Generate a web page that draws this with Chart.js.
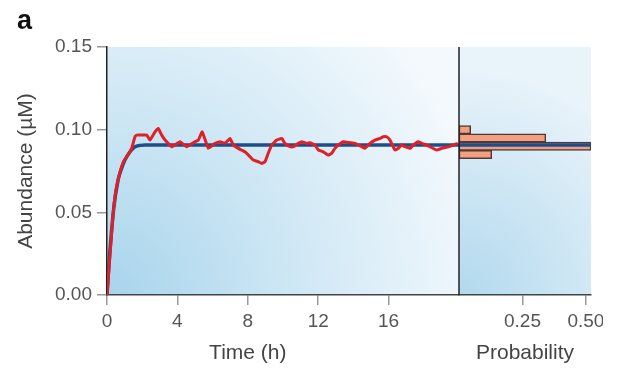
<!DOCTYPE html>
<html>
<head>
<meta charset="utf-8">
<script src="https://cdn.jsdelivr.net/npm/chart.js@4"></script>
<style>
  html, body { margin: 0; background: #fff; }
  #wrap { position: relative; width: 619px; height: 369px; }
  #wrap canvas { position: absolute; left: 0; top: 0; }
  #panel { position: absolute; left: 17px; top: 7px; font: bold 27px 'Liberation Sans', Arial, sans-serif; color: #111; line-height: 1; }
</style>
</head>
<body>
<div id="wrap">
  <canvas id="chart" width="603" height="369"></canvas>
  <div id="panel">a</div>
</div>
<script>
// stochastic simulation (red)
const timeH = [0, 0.17, 0.34, 0.51, 0.74, 0.93, 1.12, 1.40, 1.59, 1.69, 1.97, 2.26, 2.44, 2.73, 2.91, 3.11, 3.30,
  3.68, 3.86, 4.15, 4.53, 5.00, 5.19, 5.41, 5.76, 6.14, 6.42, 6.70, 6.99, 7.18, 7.46, 7.84, 8.13, 8.31, 8.60,
  8.79, 8.98, 9.16, 9.36, 9.64, 9.93, 10.11, 10.40, 10.59, 10.87, 11.06, 11.35, 11.53, 11.82, 12.01, 12.29,
  12.57, 12.77, 12.95, 13.14, 13.43, 13.81, 14.09, 14.47, 14.66, 14.94, 15.23, 15.51, 15.70, 15.89, 16.08,
  16.36, 16.55, 16.74, 16.93, 17.22, 17.40, 17.69, 17.88, 18.16, 18.35, 18.73, 19.02, 19.39, 19.68, 19.93];
const stochastic = [0, 0.0242, 0.0484, 0.0635, 0.0744, 0.0806, 0.0836, 0.0887, 0.0957, 0.0967, 0.0967, 0.0967, 0.0937, 0.0987, 0.1008, 0.0967, 0.0937,
  0.0897, 0.0907, 0.0927, 0.0897, 0.0927, 0.0937, 0.0987, 0.0887, 0.0917, 0.0927, 0.0917, 0.0947, 0.0907, 0.0887, 0.0866, 0.0836, 0.0816, 0.0806,
  0.0796, 0.0806, 0.0857, 0.0907, 0.0937, 0.0947, 0.0917, 0.0897, 0.0897, 0.0917, 0.0927, 0.0917, 0.0921, 0.0907, 0.0877, 0.0866,
  0.0846, 0.0857, 0.0887, 0.0907, 0.0927, 0.0921, 0.0917, 0.0897, 0.0887, 0.0917, 0.0937, 0.0947, 0.0957, 0.0957, 0.0937,
  0.0877, 0.0887, 0.0907, 0.0897, 0.0887, 0.0907, 0.0927, 0.0917, 0.0907, 0.0897, 0.0877, 0.0887, 0.0897, 0.0907, 0.0917];

// deterministic curve (blue)
const detTime = [0, 0.17, 0.40, 0.63, 0.80, 1.02, 1.31, 1.59, 1.88, 2.16, 20];
const deterministic = [0, 0.027, 0.054, 0.0695, 0.0756, 0.0816, 0.0866, 0.0897, 0.0905, 0.0907, 0.0907];
const meanLevel = 0.0907;

// histogram
const binCenters = [0.100, 0.095, 0.090, 0.085];
const binProb = [0.046, 0.342, 0.52, 0.129];

const abundanceTicks = [0, 0.05, 0.10, 0.15];
const timeTicks = [0, 4, 8, 12, 16];
const probTicks = [0.25, 0.50];

const FONT = "'Liberation Sans', Arial, sans-serif";
const TICK_FONT = { family: FONT, size: 19 };
const TITLE_FONT = { family: FONT, size: 21 };

const panelBackground = {
  id: 'panelBackground',
  beforeDraw(chart) {
    const { ctx, chartArea: { top, bottom }, scales: { x, x2 } } = chart;
    ctx.save();
    let g = ctx.createRadialGradient(x.left, bottom, 0, x.left, bottom, x.width * 1.1);
    g.addColorStop(0, '#a8d4ec');
    g.addColorStop(0.5, '#d0e8f5');
    g.addColorStop(1, '#f4f9fd');
    ctx.fillStyle = g;
    ctx.fillRect(x.left, top, x.width, bottom - top);
    g = ctx.createRadialGradient(x2.left, bottom, 0, x2.left, bottom, x2.width * 1.7);
    g.addColorStop(0, '#b2d9ee');
    g.addColorStop(1, '#e8f3fa');
    ctx.fillStyle = g;
    ctx.fillRect(x2.left, top, x2.width, bottom - top);
    ctx.restore();
  },
  afterDraw(chart) {
    const { ctx, chartArea: { top, bottom }, scales: { x, x2 } } = chart;
    ctx.save();
    ctx.strokeStyle = '#222';
    ctx.lineWidth = 1.5;
    ctx.beginPath();
    ctx.moveTo(x2.left, top);
    ctx.lineTo(x2.left, bottom);
    ctx.stroke();
    // time title sits under the 0-16 tick span
    ctx.font = '21px ' + FONT;
    ctx.fillStyle = '#444';
    ctx.textAlign = 'center';
    ctx.textBaseline = 'middle';
    const cx = (x.getPixelForValue(timeTicks[0]) + x.getPixelForValue(timeTicks[timeTicks.length - 1])) / 2;
    ctx.fillText('Time (h)', cx, x.bottom - 3 - 12.6);
    ctx.restore();
  }
};

const fixX = (scale) => {
  scale.height = 74;
  scale.paddingLeft = 0;
  scale.paddingRight = 0;
};

new Chart(document.getElementById('chart'), {
  type: 'line',
  data: {
    datasets: [
      {
        indexAxis: 'x',
        data: timeH.map((t, i) => ({ x: t, y: stochastic[i] })),
        xAxisID: 'x', yAxisID: 'y',
        borderColor: '#e11f26', borderWidth: 3, pointRadius: 0, tension: 0.1,
        borderJoinStyle: 'round'
      },
      {
        indexAxis: 'x',
        data: detTime.map((t, i) => ({ x: t, y: deterministic[i] })),
        xAxisID: 'x', yAxisID: 'y',
        borderColor: '#1f4d8c', borderWidth: 3.5, pointRadius: 0, tension: 0.3
      },
      {
        indexAxis: 'x',
        data: [{ x: 0, y: meanLevel }, { x: 0.52, y: meanLevel }],
        xAxisID: 'x2', yAxisID: 'y',
        borderColor: '#1f4d8c', borderWidth: 3.5, pointRadius: 0
      },
      {
        type: 'bar',
        indexAxis: 'y',
        data: binCenters.map((c, i) => ({ x: binProb[i], y: c })),
        xAxisID: 'x2', yAxisID: 'y',
        backgroundColor: '#f49f7f', borderColor: '#4d3b38', borderWidth: 1.5,
        barPercentage: 1, categoryPercentage: 1, borderSkipped: false
      }
    ]
  },
  options: {
    // bars grow sideways; keeps the bar grouping on the one y axis
    indexAxis: 'y',
    responsive: false,
    animation: false,
    layout: { padding: { left: 0, right: 12, top: 47, bottom: 0 } },
    plugins: { legend: { display: false }, tooltip: { enabled: false } },
    scales: {
      y: {
        type: 'linear', position: 'left', min: 0, max: 0.15,
        offset: false,
        afterBuildTicks: (s) => { s.ticks = abundanceTicks.map(v => ({ value: v })); },
        afterFit: (s) => { s.width = 107; },
        ticks: { font: TICK_FONT, color: '#555', padding: 5, callback: (v) => v.toFixed(2) },
        grid: { drawOnChartArea: false, offset: false, tickLength: 10, color: '#999', lineWidth: 1.5 },
        border: { color: '#222', width: 1.5 },
        title: { display: true, text: 'Abundance (µM)', font: TITLE_FONT, color: '#444', padding: { top: 14, bottom: 0 } }
      },
      x: {
        type: 'linear', position: 'bottom', stack: 'bottom', stackWeight: 352,
        min: 0, max: 20,
        afterBuildTicks: (s) => { s.ticks = timeTicks.map(v => ({ value: v })); },
        afterFit: fixX,
        ticks: { font: TICK_FONT, color: '#555', padding: 5, maxRotation: 0 },
        grid: { drawOnChartArea: false, tickLength: 10, color: '#999', lineWidth: 1.5 },
        border: { color: '#444', width: 1.5 }
      },
      x2: {
        type: 'linear', position: 'bottom', stack: 'bottom', stackWeight: 132,
        min: 0, max: 0.52,
        afterBuildTicks: (s) => { s.ticks = probTicks.map(v => ({ value: v })); },
        afterFit: fixX,
        ticks: { font: TICK_FONT, color: '#555', padding: 5, maxRotation: 0, callback: (v) => v.toFixed(2) },
        grid: { drawOnChartArea: false, tickLength: 10, color: '#999', lineWidth: 1.5 },
        border: { color: '#444', width: 1.5 },
        title: { display: true, text: 'Probability', font: TITLE_FONT, color: '#444', padding: { top: 0, bottom: 3 } }
      }
    }
  },
  plugins: [panelBackground]
});
</script>
</body>
</html>
